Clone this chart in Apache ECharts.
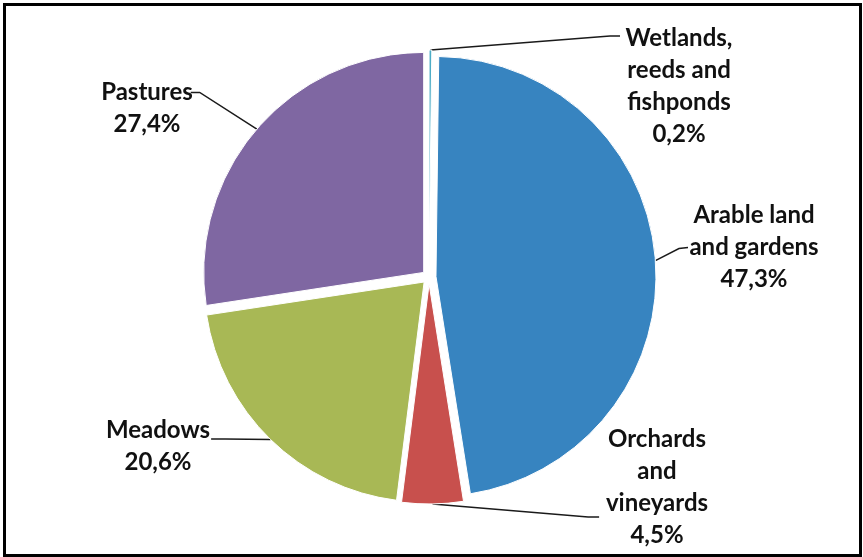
<!DOCTYPE html>
<html>
<head>
<meta charset="utf-8">
<script src="https://cdn.jsdelivr.net/npm/echarts@6/dist/echarts.min.js"></script>
<style>
html,body{margin:0;padding:0;background:#fff;}
#chart{width:863px;height:557px;}
</style>
</head>
<body>
<div id="chart"></div>
<script>
// Data
const categories = ['Wetlands,\nreeds and\nfishponds', 'Arable land\nand gardens', 'Orchards\nand\nvineyards', 'Meadows', 'Pastures'];
const values = [0.2, 47.3, 4.5, 20.6, 27.4];
const colors = ['#4BACC6', '#3784C0', '#C8504D', '#A8B855', '#7F67A2'];

// Label placement (label centres, leader bend and end points)
const labelPlacement = [
  {x: 679, y: 86, bend: [610, 43], end: [620, 43]},
  {x: 754, y: 247, bend: [672, 249], end: [681, 248]},
  {x: 657, y: 487, bend: [588, 510], end: [599, 510]},
  {x: 158, y: 446, bend: [230, 434], end: [216, 434]},
  {x: 147, y: 108, bend: [205, 97], end: [196, 97]}
];

const fmt = v => v.toFixed(1).replace('.', ',') + '%';
const labelText = i => categories[i] + '\n' + fmt(values[i]);

const chart = echarts.init(document.getElementById('chart'), null, {renderer: 'canvas'});

const data = categories.map((name, i) => ({
  name: name,
  value: values[i],
  selected: true,
  itemStyle: {color: colors[i]}
}));

const FONT = 'bold 24px Lato';

chart.setOption({
  animation: false,
  graphic: [{
    type: 'rect',
    shape: {x: 4.5, y: 4.5, width: 856, height: 551},
    style: {fill: 'none', stroke: '#000', lineWidth: 3},
    silent: true
  }].concat(categories.map((c, i) => ({
    type: 'text',
    silent: true,
    z: 100,
    style: {
      text: labelText(i),
      x: labelPlacement[i].x,
      y: labelPlacement[i].y,
      textAlign: 'center',
      textVerticalAlign: 'middle',
      font: FONT,
      lineHeight: 32,
      fill: '#111'
    }
  }))),
  series: [{
    type: 'pie',
    center: [429, 277],
    radius: 220,
    startAngle: 90,
    clockwise: true,
    selectedMode: 'multiple',
    selectedOffset: 7,
    avoidLabelOverlap: false,
    emphasis: {disabled: true},
    itemStyle: {borderColor: '#fff', borderWidth: 1},
    data: data,
    label: {
      show: true,
      position: 'outside',
      color: 'rgba(0,0,0,0)',
      fontSize: 12,
      formatter: function (p) { return fmt(p.value); }
    },
    labelLine: {
      show: true,
      length: 10,
      length2: 10,
      lineStyle: {color: '#1a1a1a', width: 1.5}
    },
    labelLayout: function (params) {
      const lp = labelPlacement[params.dataIndex];
      const pts = params.labelLinePoints;
      const start = pts ? pts[0] : lp.bend;
      return {
        labelLinePoints: [start, lp.bend, lp.end]
      };
    }
  }]
});
</script>
</body>
</html>
